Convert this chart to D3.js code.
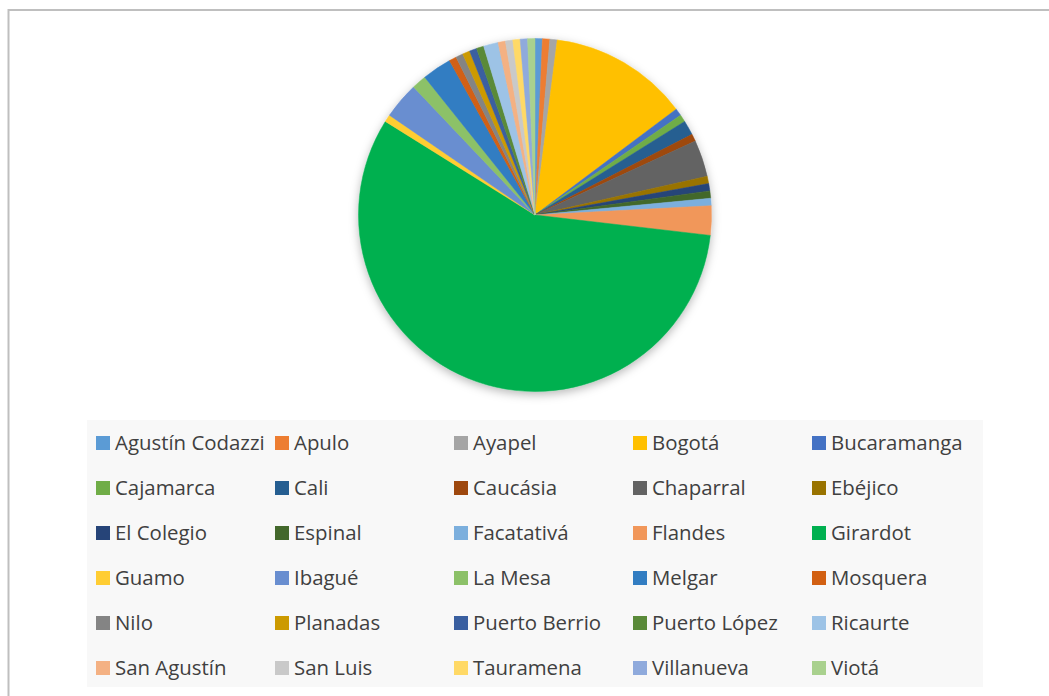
<!DOCTYPE html>
<html>
<head>
<meta charset="utf-8">
<script src="https://cdn.jsdelivr.net/npm/d3@7"></script>
<style>
  html, body { margin: 0; padding: 0; background: #fff; }
  svg { display: block; }
</style>
</head>
<body>
<svg id="chart" width="1049" height="696"></svg>
<script>
// Municipalities, in the order the slices are drawn (clockwise from 12 o'clock)
const municipios = [
  "Agustín Codazzi", "Apulo", "Ayapel", "Bogotá", "Bucaramanga",
  "Cajamarca", "Cali", "Caucásia", "Chaparral", "Ebéjico",
  "El Colegio", "Espinal", "Facatativá", "Flandes", "Girardot",
  "Guamo", "Ibagué", "La Mesa", "Melgar", "Mosquera",
  "Nilo", "Planadas", "Puerto Berrio", "Puerto López", "Ricaurte",
  "San Agustín", "San Luis", "Tauramena", "Villanueva", "Viotá"
];

// Count per municipality
const conteos = [
  1, 1, 1, 19, 1,
  1, 2, 1, 5, 1,
  1, 1, 1, 4, 85,
  1, 5, 2, 4, 1,
  1, 1, 1, 1, 2,
  1, 1, 1, 1, 1
];

// Slice colours
const colores = [
  "#5B9BD5", "#ED7D31", "#A5A5A5", "#FFC000", "#4472C4",
  "#70AD47", "#255E91", "#9E480E", "#636363", "#997300",
  "#264478", "#43682B", "#7CAFDD", "#F1975A", "#00B050",
  "#FFCD33", "#698ED0", "#8CC168", "#327DC2", "#D26012",
  "#848484", "#CC9A00", "#3A5FA0", "#5A8A39", "#9DC3E6",
  "#F4B183", "#C9C9C9", "#FFD966", "#8FAADC", "#A9D18E"
];

const svg = d3.select("#chart");

// chart frame (top and left edges visible)
svg.append("path")
  .attr("d", "M8.5,696 L8.5,10 L1049,10")
  .attr("fill", "none")
  .attr("stroke", "#BFBFBF")
  .attr("stroke-width", 2);

// soft shadow under the pie
const defs = svg.append("defs");
const f = defs.append("filter").attr("id", "pieShadow")
  .attr("x", "-20%").attr("y", "-20%").attr("width", "140%").attr("height", "140%");
f.append("feDropShadow")
  .attr("dx", 0).attr("dy", 3).attr("stdDeviation", 5)
  .attr("flood-color", "#000").attr("flood-opacity", 0.28);

const data = municipios.map((m, i) => ({ name: m, value: conteos[i], color: colores[i] }));

const cx = 535, cy = 215, radius = 176.5;

const pie = d3.pie().value(d => d.value).sort(null);
const arc = d3.arc().innerRadius(0).outerRadius(radius);

const g = svg.append("g").attr("transform", `translate(${cx},${cy})`);
g.append("g").attr("filter", "url(#pieShadow)")
  .selectAll("path")
  .data(pie(data))
  .join("path")
  .attr("d", arc)
  .attr("fill", d => d.data.color)
  .attr("stroke", d => d.data.color)
  .attr("stroke-width", 0.5);

// legend
const legend = svg.append("g");
legend.append("rect")
  .attr("x", 87).attr("y", 420)
  .attr("width", 896).attr("height", 267)
  .attr("fill", "#F8F8F8");

const colX = d3.scalePoint().domain(d3.range(5)).range([96, 812]);
const rowY = d3.scalePoint().domain(d3.range(6)).range([443, 668]);

const items = legend.selectAll("g.item")
  .data(data)
  .join("g")
  .attr("class", "item")
  .attr("transform", (d, i) => `translate(${colX(i % 5)},${rowY(Math.floor(i / 5))})`);

items.append("rect")
  .attr("x", 0).attr("y", -7)
  .attr("width", 14).attr("height", 14)
  .attr("fill", d => d.color);

items.append("text")
  .attr("x", 19)
  .attr("y", 0)
  .attr("dy", "0.36em")
  .attr("font-family", "'Open Sans', Lato, sans-serif")
  .attr("font-size", 20.4)
  .attr("fill", "#404040")
  .text(d => d.name);
</script>
</body>
</html>
